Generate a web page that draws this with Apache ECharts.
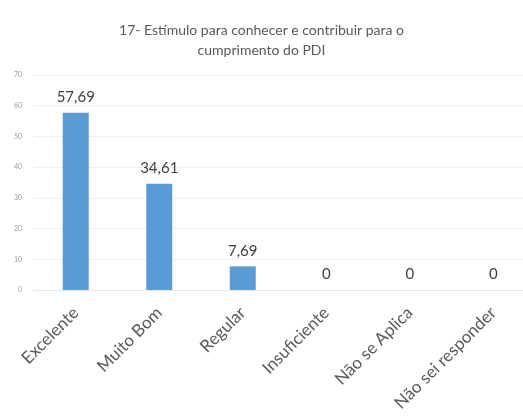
<!DOCTYPE html>
<html>
<head>
<meta charset="utf-8">
<script src="https://cdn.jsdelivr.net/npm/echarts@6/dist/echarts.min.js"></script>
<style>html,body{margin:0;padding:0;background:#fff}#c{width:523px;height:419px}</style>
</head>
<body>
<div id="c"></div>
<script>
const categories = ["Excelente", "Muito Bom", "Regular", "Insuficiente", "Não se Aplica", "Não sei responder"];
const values = [57.69, 34.61, 7.69, 0, 0, 0];
const valueLabels = ["57,69", "34,61", "7,69", "0", "0", "0"];
const titleText = "17- Estímulo para conhecer e contribuir para o\ncumprimento do PDI";

const chart = echarts.init(document.getElementById('c'));
chart.setOption({
  animation: false,
  title: {
    text: titleText,
    left: 'center',
    top: 15,
    textStyle: { fontFamily: 'Lato', fontSize: 14, fontWeight: 'normal', color: '#595959', lineHeight: 20 }
  },
  grid: { left: 34, width: 501, top: 75, bottom: 129, containLabel: false, outerBoundsMode: 'none' },
  xAxis: {
    type: 'category',
    data: categories,
    axisLine: { show: true, lineStyle: { color: '#e6e6e6' } },
    axisTick: { show: false },
    axisLabel: { rotate: 45, interval: 0, fontFamily: 'Lato', fontSize: 17, color: '#595959', margin: 20 }
  },
  yAxis: {
    type: 'value',
    min: 0, max: 70, interval: 10,
    axisLine: { show: false },
    axisTick: { show: false },
    splitLine: { lineStyle: { color: '#eeeeee' } },
    axisLabel: { fontFamily: 'Lato', fontSize: 7, color: '#9a9a9a', margin: 12 }
  },
  series: [{
    type: 'bar',
    data: values,
    barWidth: 26,
    itemStyle: { color: '#5b9bd5' },
    label: {
      show: true, position: 'top', distance: 8,
      fontFamily: 'Lato', fontSize: 15, color: '#404040',
      formatter: p => valueLabels[p.dataIndex]
    }
  }]
});
</script>
</body>
</html>
